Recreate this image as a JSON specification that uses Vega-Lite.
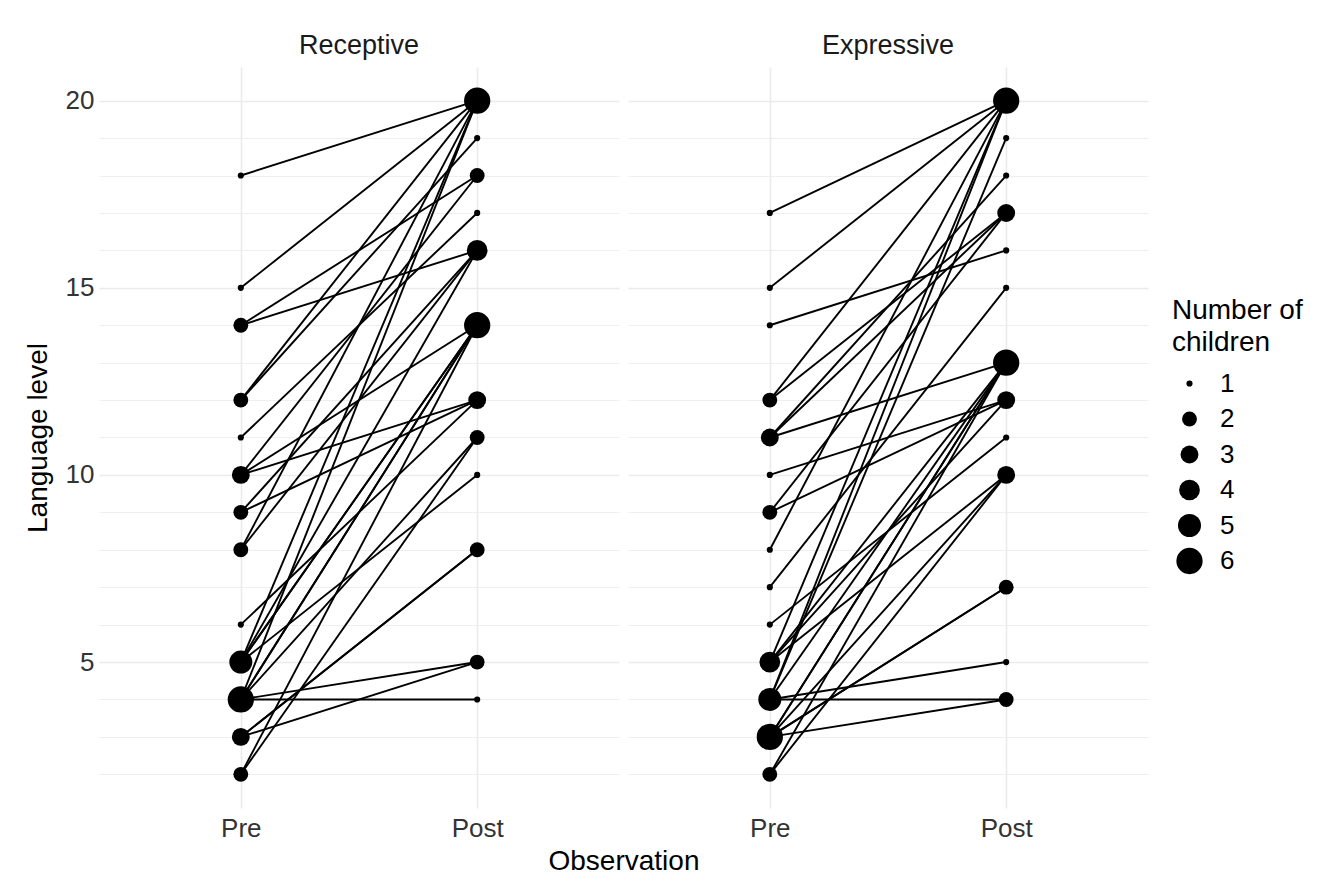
{
  "$schema": "https://vega.github.io/schema/vega-lite/v6.json",
  "background": "white",
  "padding": {"left": 24, "top": 32, "right": 5, "bottom": 5},
  "data": {"values": [
    {"panel": "Receptive", "child": 1, "Pre": 18, "Post": 20},
    {"panel": "Receptive", "child": 2, "Pre": 15, "Post": 20},
    {"panel": "Receptive", "child": 3, "Pre": 14, "Post": 18},
    {"panel": "Receptive", "child": 4, "Pre": 14, "Post": 16},
    {"panel": "Receptive", "child": 5, "Pre": 12, "Post": 20},
    {"panel": "Receptive", "child": 6, "Pre": 12, "Post": 19},
    {"panel": "Receptive", "child": 7, "Pre": 11, "Post": 17},
    {"panel": "Receptive", "child": 8, "Pre": 10, "Post": 18},
    {"panel": "Receptive", "child": 9, "Pre": 10, "Post": 12},
    {"panel": "Receptive", "child": 10, "Pre": 10, "Post": 14},
    {"panel": "Receptive", "child": 11, "Pre": 9, "Post": 12},
    {"panel": "Receptive", "child": 12, "Pre": 9, "Post": 16},
    {"panel": "Receptive", "child": 13, "Pre": 8, "Post": 20},
    {"panel": "Receptive", "child": 14, "Pre": 8, "Post": 16},
    {"panel": "Receptive", "child": 15, "Pre": 6, "Post": 12},
    {"panel": "Receptive", "child": 16, "Pre": 5, "Post": 20},
    {"panel": "Receptive", "child": 17, "Pre": 5, "Post": 14},
    {"panel": "Receptive", "child": 18, "Pre": 5, "Post": 14},
    {"panel": "Receptive", "child": 19, "Pre": 5, "Post": 16},
    {"panel": "Receptive", "child": 20, "Pre": 5, "Post": 10},
    {"panel": "Receptive", "child": 21, "Pre": 4, "Post": 20},
    {"panel": "Receptive", "child": 22, "Pre": 4, "Post": 14},
    {"panel": "Receptive", "child": 23, "Pre": 4, "Post": 14},
    {"panel": "Receptive", "child": 24, "Pre": 4, "Post": 11},
    {"panel": "Receptive", "child": 25, "Pre": 4, "Post": 5},
    {"panel": "Receptive", "child": 26, "Pre": 4, "Post": 4},
    {"panel": "Receptive", "child": 27, "Pre": 3, "Post": 8},
    {"panel": "Receptive", "child": 28, "Pre": 3, "Post": 8},
    {"panel": "Receptive", "child": 29, "Pre": 3, "Post": 5},
    {"panel": "Receptive", "child": 30, "Pre": 2, "Post": 11},
    {"panel": "Receptive", "child": 31, "Pre": 2, "Post": 14},
    {"panel": "Expressive", "child": 1, "Pre": 17, "Post": 20},
    {"panel": "Expressive", "child": 2, "Pre": 15, "Post": 20},
    {"panel": "Expressive", "child": 3, "Pre": 14, "Post": 16},
    {"panel": "Expressive", "child": 4, "Pre": 12, "Post": 20},
    {"panel": "Expressive", "child": 5, "Pre": 12, "Post": 17},
    {"panel": "Expressive", "child": 6, "Pre": 11, "Post": 18},
    {"panel": "Expressive", "child": 7, "Pre": 11, "Post": 17},
    {"panel": "Expressive", "child": 8, "Pre": 11, "Post": 13},
    {"panel": "Expressive", "child": 9, "Pre": 10, "Post": 12},
    {"panel": "Expressive", "child": 10, "Pre": 9, "Post": 12},
    {"panel": "Expressive", "child": 11, "Pre": 9, "Post": 17},
    {"panel": "Expressive", "child": 12, "Pre": 8, "Post": 20},
    {"panel": "Expressive", "child": 13, "Pre": 7, "Post": 15},
    {"panel": "Expressive", "child": 14, "Pre": 6, "Post": 11},
    {"panel": "Expressive", "child": 15, "Pre": 5, "Post": 10},
    {"panel": "Expressive", "child": 16, "Pre": 5, "Post": 20},
    {"panel": "Expressive", "child": 17, "Pre": 5, "Post": 13},
    {"panel": "Expressive", "child": 18, "Pre": 5, "Post": 12},
    {"panel": "Expressive", "child": 19, "Pre": 4, "Post": 5},
    {"panel": "Expressive", "child": 20, "Pre": 4, "Post": 4},
    {"panel": "Expressive", "child": 21, "Pre": 4, "Post": 20},
    {"panel": "Expressive", "child": 22, "Pre": 4, "Post": 19},
    {"panel": "Expressive", "child": 23, "Pre": 4, "Post": 13},
    {"panel": "Expressive", "child": 24, "Pre": 3, "Post": 7},
    {"panel": "Expressive", "child": 25, "Pre": 3, "Post": 7},
    {"panel": "Expressive", "child": 26, "Pre": 3, "Post": 4},
    {"panel": "Expressive", "child": 27, "Pre": 3, "Post": 10},
    {"panel": "Expressive", "child": 28, "Pre": 3, "Post": 13},
    {"panel": "Expressive", "child": 29, "Pre": 3, "Post": 13},
    {"panel": "Expressive", "child": 30, "Pre": 2, "Post": 10},
    {"panel": "Expressive", "child": 31, "Pre": 2, "Post": 13}
  ]},
  "transform": [{"fold": ["Pre", "Post"], "as": ["Observation", "Level"]}],
  "facet": {
    "column": {
      "field": "panel", "type": "nominal", "sort": ["Receptive", "Expressive"],
      "title": "Observation",
      "header": {
        "labelOrient": "top", "labelFontSize": 27, "labelColor": "#1A1A1A", "labelFont": "Liberation Sans", "labelPadding": 7,
        "titleOrient": "bottom", "titleFontSize": 28, "titleFontWeight": "normal", "titleColor": "#000000", "titleFont": "Liberation Sans", "titlePadding": -3
      }
    }
  },
  "spacing": 9,
  "spec": {
    "width": 520,
    "height": 741,
    "layer": [
      {
        "mark": {"type": "line", "color": "black", "strokeWidth": 1.9},
        "encoding": {
          "x": {"field": "Observation", "type": "nominal", "sort": ["Pre", "Post"], "scale": {"type": "point", "padding": 0.6}, "title": null},
          "y": {"field": "Level", "type": "quantitative", "title": "Language level", "scale": {"domain": [1.1, 20.9], "nice": false, "zero": false}},
          "detail": {"field": "child", "type": "nominal"}
        }
      },
      {
        "transform": [{"aggregate": [{"op": "count", "as": "n"}], "groupby": ["panel", "Observation", "Level"]}],
        "mark": {"type": "circle", "color": "black", "opacity": 1},
        "encoding": {
          "x": {"field": "Observation", "type": "nominal", "sort": ["Pre", "Post"], "title": null},
          "y": {"field": "Level", "type": "quantitative", "title": "Language level"},
          "size": {
            "field": "n", "type": "quantitative",
            "scale": {"domain": [1, 2, 3, 4, 5, 6], "range": [38, 220, 320, 430, 530, 690]},
            "legend": {
              "title": ["Number of", "children"], "values": [1, 2, 3, 4, 5, 6],
              "orient": "none", "legendX": 1073, "legendY": 230
            }
          }
        }
      }
    ]
  },
  "config": {
    "font": "Liberation Sans",
    "view": {"stroke": null},
    "axisX": {
      "labelAngle": 0, "ticks": false, "domain": false, "grid": true,
      "gridColor": "#EBEBEB", "gridWidth": 1.6, "labelFontSize": 26, "labelColor": "#333333", "labelPadding": 7
    },
    "axisY": {
      "titleFontSize": 28, "titleFontWeight": "normal", "titleColor": "#000000", "titlePadding": 13,
      "values": [2.5, 5, 7.5, 10, 12.5, 15, 17.5, 20],
      "labelExpr": "datum.value % 5 === 0 ? datum.label : ''",
      "ticks": false, "domain": false, "grid": true, "gridColor": "#EBEBEB",
      "gridWidth": {"condition": {"test": "datum.value % 5 === 0", "value": 1.6}, "value": 0.8},
      "labelFontSize": 26, "labelColor": "#333333", "labelPadding": 5
    },
    "legend": {
      "titleFontSize": 28, "titleFontWeight": "normal", "titleColor": "#000000", "titleLineHeight": 32, "titlePadding": 12,
      "labelFontSize": 26, "labelColor": "#000000", "labelOffset": 17, "symbolOffset": 4,
      "symbolFillColor": "black", "symbolStrokeWidth": 0, "symbolOpacity": 1,
      "clipHeight": 29, "rowPadding": 6.5
    }
  }
}
